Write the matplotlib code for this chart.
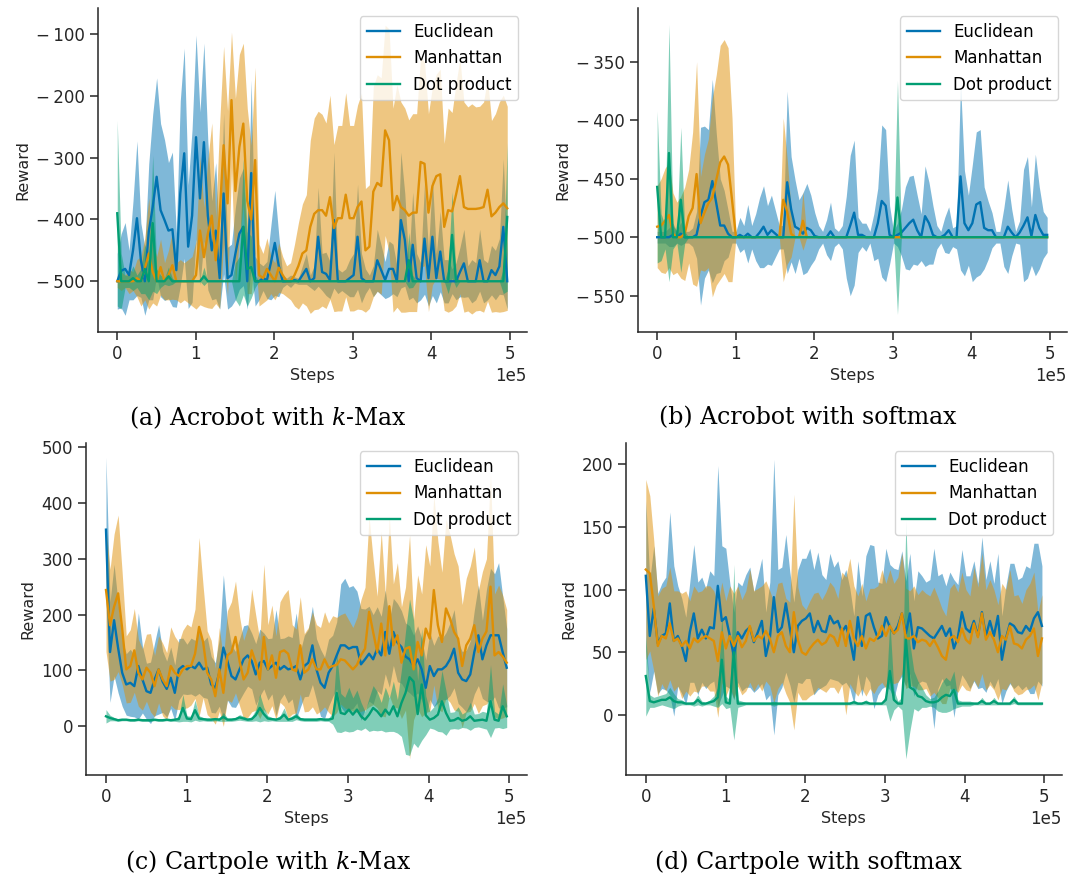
import numpy as np
import matplotlib
matplotlib.use('Agg')
import matplotlib.pyplot as plt
from matplotlib.ticker import FuncFormatter

# Training steps (100 evaluation points per run)
steps = np.arange(100) * 5020

labels = ['Euclidean', 'Manhattan', 'Dot product']
colors = ['#0173b2', '#de8f05', '#029e73']

# ---------------- (a) Acrobot with k-Max ----------------
acro_kmax_euc = [
    -500, -483, -480, -490, -450, -398, -466, -500, -420, -380,
    -331, -385, -401, -418, -416, -482, -358, -293, -444, -394,
    -267, -366, -275, -394, -450, -418, -495, -358, -495, -490,
    -455, -423, -412, -500, -325, -500, -500, -495, -498, -470,
    -438, -475, -500, -500, -500, -498, -500, -490, -480, -500,
    -495, -428, -485, -488, -498, -401, -500, -500, -500, -495,
    -490, -428, -495, -500, -500, -500, -466, -482, -498, -480,
    -480, -500, -401, -433, -500, -441, -495, -500, -431, -495,
    -428, -495, -452, -500, -500, -500, -500, -485, -471, -500,
    -500, -500, -466, -500, -500, -482, -490, -476, -412, -500]
acro_kmax_euc_std = [
    45, 60, 75, 40, 80, 125, 60, 55, 110, 150,
    160, 140, 130, 110, 125, 60, 150, 170, 100, 140,
    165, 140, 160, 120, 80, 110, 50, 130, 50, 50,
    75, 90, 95, 45, 150, 40, 30, 20, 30, 60,
    85, 50, 10, 5, 10, 5, 5, 15, 25, 10,
    20, 80, 30, 35, 30, 110, 20, 15, 20, 30,
    35, 85, 40, 20, 10, 25, 50, 40, 30, 45,
    40, 25, 110, 75, 30, 85, 40, 30, 90, 45,
    95, 40, 65, 35, 35, 20, 30, 40, 55, 25,
    35, 30, 50, 35, 30, 40, 40, 45, 110, 45]
acro_kmax_man = [
    -500, -500, -500, -500, -500, -495, -500, -480, -455, -485,
    -500, -477, -500, -490, -474, -500, -500, -500, -500, -500,
    -490, -418, -461, -423, -394, -466, -394, -280, -374, -207,
    -354, -283, -245, -370, -400, -304, -490, -495, -480, -490,
    -500, -478, -490, -500, -500, -490, -475, -455, -450, -412,
    -391, -385, -385, -394, -364, -414, -398, -398, -360, -398,
    -398, -380, -371, -450, -444, -355, -341, -346, -256, -272,
    -385, -362, -380, -385, -394, -389, -389, -307, -310, -389,
    -346, -330, -327, -412, -385, -387, -360, -330, -380, -383,
    -383, -383, -382, -380, -352, -395, -389, -380, -374, -382]
acro_kmax_man_std = [
    10, 15, 10, 20, 15, 30, 40, 50, 90, 50,
    40, 45, 30, 40, 55, 30, 35, 30, 35, 40,
    55, 120, 80, 120, 150, 70, 150, 160, 150, 110,
    150, 150, 130, 150, 120, 150, 50, 40, 50, 30,
    30, 40, 30, 25, 30, 50, 70, 80, 90, 140,
    155, 160, 155, 150, 165, 135, 150, 150, 165, 150,
    150, 165, 175, 100, 100, 170, 175, 175, 170, 180,
    165, 180, 170, 165, 155, 160, 160, 170, 165, 160,
    160, 165, 170, 135, 165, 160, 180, 190, 170, 165,
    170, 165, 165, 170, 180, 155, 160, 170, 175, 165]
acro_kmax_dot = [
    -390, -500, -500, -500, -495, -500, -500, -480, -500, -406,
    -500, -500, -500, -492, -500, -500, -500, -500, -500, -500,
    -500, -500, -492, -500, -500, -500, -500, -500, -500, -500,
    -500, -500, -412, -480, -477, -500, -500, -500, -500, -500,
    -500, -500, -500, -500, -500, -500, -500, -500, -500, -500,
    -500, -500, -500, -500, -500, -500, -500, -500, -500, -500,
    -500, -500, -500, -500, -500, -500, -500, -500, -500, -500,
    -500, -500, -500, -500, -466, -500, -500, -500, -500, -500,
    -500, -500, -500, -500, -500, -425, -500, -500, -500, -500,
    -500, -500, -500, -500, -500, -500, -500, -500, -500, -396]
acro_kmax_dot_std = [
    150, 45, 10, 10, 20, 10, 20, 40, 30, 110,
    20, 10, 5, 15, 5, 0, 0, 0, 0, 0,
    0, 0, 15, 0, 0, 0, 0, 0, 0, 0,
    30, 40, 110, 60, 50, 10, 0, 0, 0, 0,
    0, 0, 0, 0, 0, 0, 0, 0, 0, 0,
    0, 0, 0, 0, 0, 0, 0, 0, 0, 0,
    0, 0, 0, 0, 0, 0, 0, 0, 0, 0,
    0, 0, 0, 0, 45, 10, 0, 0, 0, 0,
    0, 0, 0, 0, 20, 70, 10, 0, 0, 0,
    0, 0, 0, 0, 0, 0, 0, 0, 20, 120]

# ---------------- (b) Acrobot with softmax ----------------
acro_soft_euc = [
    -500, -500, -500, -500, -498, -500, -497, -500, -500, -500,
    -498, -482, -470, -468, -452, -471, -490, -490, -497, -500,
    -500, -498, -500, -497, -500, -500, -496, -491, -498, -494,
    -497, -500, -500, -453, -476, -491, -493, -497, -492, -494,
    -499, -500, -500, -500, -495, -500, -500, -500, -500, -490,
    -479, -498, -498, -500, -500, -500, -488, -469, -473, -498,
    -500, -498, -496, -492, -488, -485, -494, -500, -482, -488,
    -498, -500, -500, -498, -494, -500, -500, -448, -488, -494,
    -488, -472, -470, -492, -494, -494, -500, -500, -500, -491,
    -496, -500, -496, -490, -483, -499, -481, -492, -498, -498]
acro_soft_euc_std = [
    5, 5, 5, 8, 10, 5, 10, 5, 5, 8,
    20, 76, 65, 60, 87, 60, 40, 30, 20, 5,
    5, 15, 10, 25, 10, 20, 30, 35, 25, 30,
    20, 10, 10, 78, 45, 40, 25, 35, 38, 30,
    20, 10, 5, 15, 25, 8, 5, 10, 35, 60,
    62, 15, 10, 12, 5, 20, 30, 65, 65, 25,
    5, 10, 20, 35, 40, 38, 30, 20, 43, 35,
    25, 10, 5, 15, 20, 8, 10, 80, 45, 30,
    50, 62, 62, 35, 25, 15, 5, 5, 25, 40,
    20, 5, 10, 48, 52, 25, 52, 35, 20, 15]
acro_soft_man = [
    -491, -490, -486, -481, -497, -500, -500, -497, -482, -475,
    -446, -488, -479, -471, -466, -451, -436, -431, -438, -468,
    -500, -500, -500, -500, -500, -500, -500, -500, -500, -500,
    -500, -500, -468, -478, -497, -500, -500, -486, -500, -500,
    -500, -500, -500, -500, -500, -500, -500, -500, -500, -500,
    -500, -500, -500, -500, -500, -500, -500, -500, -500, -500,
    -500, -500, -500, -500, -500, -500, -500, -500, -500, -500,
    -500, -500, -500, -500, -500, -500, -500, -500, -500, -500,
    -500, -500, -500, -500, -500, -500, -500, -500, -500, -500,
    -500, -500, -500, -500, -500, -500, -500, -500, -500, -500]
acro_soft_man_std = [
    35, 40, 45, 45, 35, 30, 35, 40, 40, 65,
    96, 40, 50, 55, 85, 90, 100, 100, 100, 70,
    0, 0, 0, 0, 0, 0, 0, 0, 0, 0,
    0, 0, 70, 45, 20, 0, 0, 25, 0, 0,
    0, 0, 0, 0, 0, 0, 0, 0, 0, 0,
    0, 0, 0, 0, 0, 0, 0, 0, 0, 0,
    0, 0, 0, 0, 0, 0, 0, 0, 0, 0,
    0, 0, 0, 0, 0, 0, 0, 0, 0, 0,
    0, 0, 0, 0, 0, 0, 0, 0, 0, 0,
    0, 0, 0, 0, 0, 0, 0, 0, 0, 0]
acro_soft_dot = [
    -457, -500, -500, -428, -500, -500, -468, -500, -500, -500,
    -500, -500, -500, -500, -500, -500, -500, -500, -500, -500,
    -500, -500, -500, -500, -500, -500, -500, -500, -500, -500,
    -500, -500, -500, -500, -500, -500, -500, -500, -500, -500,
    -500, -500, -500, -500, -500, -500, -500, -500, -500, -500,
    -500, -500, -500, -500, -500, -500, -500, -500, -500, -500,
    -500, -466, -500, -500, -500, -500, -500, -500, -500, -500,
    -500, -500, -500, -500, -500, -500, -500, -500, -500, -500,
    -500, -500, -500, -500, -500, -500, -500, -500, -500, -500,
    -500, -500, -500, -500, -500, -500, -500, -500, -500, -500]
acro_soft_dot_std = [
    65, 20, 10, 110, 10, 5, 62, 5, 0, 0,
    0, 0, 0, 0, 0, 0, 0, 0, 0, 0,
    0, 0, 0, 0, 0, 0, 0, 0, 0, 0,
    0, 0, 0, 0, 0, 0, 0, 0, 0, 0,
    0, 0, 0, 0, 0, 0, 0, 0, 0, 0,
    0, 0, 0, 0, 0, 0, 0, 0, 0, 0,
    0, 100, 0, 0, 0, 0, 0, 0, 0, 0,
    0, 0, 0, 0, 0, 0, 0, 0, 0, 0,
    0, 0, 0, 0, 0, 0, 0, 0, 0, 0,
    0, 0, 0, 0, 0, 0, 0, 0, 0, 0]

# ---------------- (c) Cartpole with k-Max ----------------
cart_kmax_euc = [
    352, 133, 190, 140, 96, 75, 78, 72, 108, 84,
    63, 60, 84, 102, 80, 67, 87, 60, 102, 108,
    102, 108, 104, 114, 102, 105, 75, 69, 96, 141,
    117, 90, 84, 102, 120, 127, 117, 93, 114, 117,
    102, 108, 114, 102, 108, 102, 104, 108, 84, 108,
    114, 145, 102, 78, 69, 96, 108, 127, 145, 145,
    139, 142, 142, 111, 120, 130, 120, 139, 127, 169,
    130, 169, 150, 142, 125, 120, 108, 120, 102, 69,
    108, 90, 102, 102, 108, 120, 139, 96, 84, 81,
    93, 133, 163, 120, 145, 163, 163, 163, 133, 105]
cart_kmax_euc_std = [
    130, 90, 100, 80, 60, 55, 60, 55, 95, 60,
    50, 55, 65, 80, 55, 50, 55, 50, 55, 50,
    45, 50, 50, 55, 50, 55, 50, 45, 60, 130,
    70, 55, 50, 55, 60, 55, 50, 55, 60, 50,
    55, 50, 95, 55, 50, 60, 55, 95, 50, 55,
    60, 70, 55, 60, 55, 60, 55, 60, 110, 120,
    110, 110, 100, 100, 90, 85, 80, 75, 70, 75,
    60, 60, 70, 65, 60, 60, 55, 60, 55, 50,
    60, 55, 60, 55, 60, 65, 70, 55, 50, 55,
    60, 75, 90, 70, 100, 120, 110, 130, 100, 70]
cart_kmax_man = [
    244, 181, 214, 238, 175, 102, 108, 136, 96, 84,
    105, 96, 72, 102, 84, 72, 108, 96, 90, 102,
    108, 108, 130, 178, 151, 96, 84, 54, 102, 60,
    127, 133, 160, 117, 84, 96, 136, 114, 84, 160,
    102, 127, 87, 133, 136, 130, 102, 99, 145, 96,
    102, 120, 102, 102, 120, 105, 108, 110, 120, 118,
    110, 102, 110, 127, 139, 205, 169, 133, 184, 127,
    215, 145, 163, 114, 139, 142, 102, 151, 127, 175,
    157, 244, 181, 151, 211, 193, 169, 157, 108, 145,
    157, 181, 133, 157, 170, 250, 127, 133, 125, 114]
cart_kmax_man_std = [
    110, 100, 130, 140, 100, 60, 65, 75, 60, 55,
    60, 70, 55, 60, 65, 60, 70, 65, 60, 70,
    75, 70, 80, 160, 100, 75, 70, 50, 75, 60,
    80, 90, 100, 80, 70, 80, 110, 85, 70, 130,
    80, 90, 75, 90, 100, 115, 80, 75, 87, 70,
    75, 85, 80, 75, 85, 80, 90, 85, 80, 85,
    80, 75, 85, 100, 110, 170, 130, 100, 165, 110,
    160, 110, 130, 100, 110, 200, 90, 120, 110, 150,
    130, 170, 150, 125, 160, 150, 140, 130, 110, 120,
    130, 140, 110, 120, 130, 200, 110, 120, 110, 95]
cart_kmax_dot = [
    18, 15, 13, 11, 12, 12, 11, 11, 12, 11,
    11, 11, 12, 11, 11, 12, 11, 12, 13, 33,
    14, 13, 29, 14, 13, 12, 12, 13, 12, 17,
    12, 12, 13, 16, 14, 12, 13, 20, 33, 22,
    14, 13, 12, 14, 21, 12, 14, 18, 13, 12,
    12, 12, 12, 13, 12, 12, 14, 60, 24, 22,
    30, 21, 30, 18, 12, 21, 33, 27, 18, 30,
    21, 36, 18, 42, 60, 88, 80, 22, 75, 20,
    12, 15, 21, 45, 24, 10, 11, 15, 10, 12,
    18, 10, 11, 12, 10, 45, 12, 10, 36, 18]
cart_kmax_dot_std = [
    12, 5, 3, 2, 2, 2, 2, 2, 2, 2,
    2, 2, 2, 2, 2, 2, 2, 3, 5, 24,
    5, 5, 18, 5, 3, 3, 3, 3, 3, 8,
    3, 3, 3, 5, 4, 3, 4, 10, 25, 12,
    5, 3, 3, 5, 12, 3, 5, 6, 3, 3,
    3, 3, 3, 3, 3, 3, 10, 70, 35, 30,
    40, 30, 35, 25, 15, 30, 40, 35, 25, 40,
    30, 45, 30, 60, 110, 140, 110, 60, 100, 35,
    15, 20, 30, 55, 40, 15, 15, 20, 12, 15,
    25, 12, 12, 15, 15, 65, 15, 12, 40, 20]

# ---------------- (d) Cartpole with softmax ----------------
cart_soft_euc = [
    111, 63, 85, 57, 63, 65, 89, 59, 63, 55,
    43, 66, 81, 61, 68, 61, 70, 69, 103, 75,
    78, 63, 47, 66, 61, 67, 70, 58, 66, 75,
    47, 61, 94, 66, 70, 89, 69, 50, 71, 75,
    77, 81, 66, 75, 67, 66, 79, 73, 75, 66,
    71, 61, 44, 78, 55, 79, 81, 70, 61, 63,
    78, 70, 65, 71, 81, 65, 81, 53, 70, 69,
    66, 63, 61, 66, 71, 63, 69, 53, 62, 82,
    69, 66, 75, 63, 82, 63, 75, 63, 79, 44,
    61, 73, 71, 66, 65, 71, 67, 77, 82, 71]
cart_soft_euc_std = [
    60, 45, 50, 40, 42, 45, 73, 60, 40, 38,
    35, 40, 55, 45, 42, 40, 45, 42, 96, 60,
    55, 42, 35, 40, 42, 45, 48, 40, 45, 50,
    35, 45, 110, 50, 48, 55, 45, 40, 45, 50,
    48, 52, 50, 55, 45, 42, 50, 45, 48, 42,
    45, 40, 35, 45, 40, 48, 55, 65, 45, 42,
    55, 50, 52, 45, 50, 42, 48, 38, 45, 42,
    40, 45, 72, 45, 42, 40, 45, 55, 42, 50,
    42, 45, 48, 42, 60, 45, 48, 42, 50, 35,
    42, 48, 50, 42, 45, 48, 50, 60, 55, 48]
cart_soft_man = [
    116, 113, 87, 55, 63, 61, 73, 59, 61, 55,
    59, 53, 61, 58, 61, 63, 61, 59, 43, 66,
    53, 63, 55, 63, 54, 59, 71, 59, 63, 61,
    67, 61, 50, 63, 66, 55, 50, 82, 60, 50,
    48, 53, 57, 60, 56, 58, 64, 62, 55, 69,
    55, 75, 61, 55, 63, 53, 61, 59, 63, 71,
    63, 71, 65, 68, 81, 61, 61, 63, 58, 60,
    59, 55, 60, 54, 47, 44, 61, 63, 58, 69,
    60, 57, 73, 62, 81, 60, 66, 60, 50, 63,
    60, 71, 57, 56, 53, 60, 63, 69, 47, 61]
cart_soft_man_std = [
    72, 62, 52, 40, 38, 42, 45, 40, 38, 42,
    40, 38, 42, 40, 38, 40, 42, 40, 45, 40,
    38, 40, 42, 40, 38, 40, 45, 40, 38, 42,
    40, 38, 40, 42, 40, 38, 40, 94, 42, 38,
    36, 38, 40, 38, 36, 40, 42, 40, 38, 45,
    55, 50, 42, 40, 42, 38, 40, 42, 40, 45,
    42, 45, 40, 42, 48, 40, 38, 40, 38, 40,
    38, 40, 42, 40, 38, 35, 40, 42, 40, 45,
    40, 38, 45, 40, 48, 40, 42, 40, 38, 42,
    40, 45, 38, 40, 36, 40, 42, 45, 35, 35]
cart_soft_dot = [
    31, 11, 10, 11, 12, 12, 14, 11, 10, 10,
    9, 9, 9, 12, 9, 9, 10, 11, 14, 44,
    10, 9, 50, 9, 9, 9, 9, 9, 9, 9,
    9, 9, 9, 9, 9, 9, 9, 9, 9, 9,
    9, 9, 9, 9, 9, 9, 9, 9, 9, 9,
    9, 9, 10, 9, 9, 10, 9, 9, 9, 9,
    12, 35, 12, 9, 9, 60, 22, 20, 15, 14,
    11, 10, 10, 11, 14, 16, 15, 20, 9, 9,
    9, 9, 9, 9, 11, 9, 9, 11, 9, 9,
    9, 9, 12, 9, 9, 9, 9, 9, 9, 9]
cart_soft_dot_std = [
    32, 5, 4, 4, 4, 5, 8, 6, 3, 2,
    1, 1, 2, 4, 2, 1, 2, 4, 8, 35,
    5, 3, 70, 3, 2, 1, 1, 1, 1, 1,
    1, 1, 2, 1, 1, 1, 1, 1, 1, 1,
    1, 1, 1, 1, 1, 1, 1, 1, 1, 1,
    1, 1, 2, 1, 1, 2, 1, 1, 1, 1,
    4, 40, 8, 2, 5, 95, 35, 15, 12, 8,
    5, 3, 4, 8, 12, 14, 12, 15, 3, 2,
    2, 2, 1, 1, 3, 1, 1, 3, 1, 1,
    1, 1, 3, 1, 1, 1, 1, 1, 1, 1]

captions = ['(a) Acrobot with $k$-Max', '(b) Acrobot with softmax',
            '(c) Cartpole with $k$-Max', '(d) Cartpole with softmax']

panels = [
    ([acro_kmax_euc, acro_kmax_man, acro_kmax_dot],
     [acro_kmax_euc_std, acro_kmax_man_std, acro_kmax_dot_std],
     [0.0911, 0.6249, 0.3998, 0.3661], (-582, -58), [-500, -400, -300, -200, -100]),
    ([acro_soft_euc, acro_soft_man, acro_soft_dot],
     [acro_soft_euc_std, acro_soft_man_std, acro_soft_dot_std],
     [0.5943, 0.6249, 0.3998, 0.3661], (-581, -304), [-550, -500, -450, -400, -350]),
    ([cart_kmax_euc, cart_kmax_man, cart_kmax_dot],
     [cart_kmax_euc_std, cart_kmax_man_std, cart_kmax_dot_std],
     [0.0801, 0.1243, 0.4108, 0.3751], (-87, 507), [0, 100, 200, 300, 400, 500]),
    ([cart_soft_euc, cart_soft_man, cart_soft_dot],
     [cart_soft_euc_std, cart_soft_man_std, cart_soft_dot_std],
     [0.5834, 0.1243, 0.4061, 0.3751], (-48, 217), [0, 50, 100, 150, 200]),
]
caption_pos = [(0.250, 0.528), (0.753, 0.528), (0.250, 0.026), (0.753, 0.026)]

plt.rcParams['mathtext.fontset'] = 'custom'
plt.rcParams['mathtext.rm'] = 'DejaVu Serif'
plt.rcParams['mathtext.it'] = 'DejaVu Serif:italic'


def reward_fmt(v, pos):
    # minus sign with a small gap, as in the original figure
    if v < 0:
        return '\u2212\u2009' + f'{abs(v):g}'
    return f'{v:g}'


fig = plt.figure(figsize=(10.73, 8.85), dpi=100)

for (means, stds, rect, ylim, yticks), cap, cpos in zip(panels, captions, caption_pos):
    ax = fig.add_axes(rect)
    x = steps
    for m, s, c in zip(means, stds, colors):
        m = np.array(m, dtype=float)
        s = np.array(s, dtype=float)
        ax.fill_between(x, m - s, m + s, color=c, alpha=0.5, lw=0, zorder=1)
    for m, c, lab in zip(means, colors, labels):
        ax.plot(x, m, color=c, lw=1.7, label=lab, zorder=2)
    ax.set_ylim(*ylim)
    ax.set_yticks(yticks)
    ax.yaxis.set_major_formatter(FuncFormatter(reward_fmt))
    ax.set_xticks([0, 100000, 200000, 300000, 400000, 500000])
    ax.ticklabel_format(axis='x', style='sci', scilimits=(0, 0))
    ax.xaxis.get_offset_text().set_fontsize(12)
    ax.tick_params(labelsize=12, length=5.8, width=1.1, colors='#262626')
    ax.spines['top'].set_visible(False)
    ax.spines['right'].set_visible(False)
    for sp in ['left', 'bottom']:
        ax.spines[sp].set_linewidth(1.1)
        ax.spines[sp].set_color('#262626')
    ax.set_xlabel('Steps', fontsize=11.5, color='#262626')
    ax.set_ylabel('Reward', fontsize=11.5, color='#262626')
    ax.legend(loc='upper right', fontsize=12)
    fig.text(cpos[0], cpos[1], cap, ha='center', va='center',
             fontsize=17, family='DejaVu Serif')

fig.savefig('out.png', dpi=100)
